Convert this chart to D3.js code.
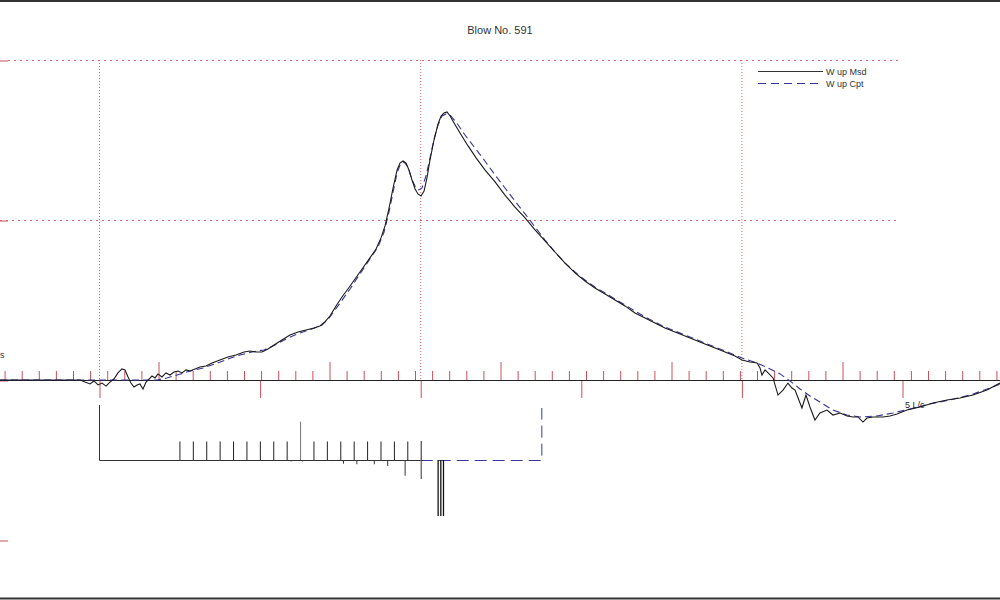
<!DOCTYPE html>
<html><head><meta charset="utf-8">
<script src="https://cdn.jsdelivr.net/npm/d3@7"></script>
<style>html,body{margin:0;padding:0;background:#fff;overflow:hidden}svg{display:block;font-family:"Liberation Sans",Arial,sans-serif}</style>
</head><body><svg id="c" width="1000" height="600"></svg>
<script>
const title = "Blow No. 591";
const legendLabels = ["W up Msd", "W up Cpt"];
const axisLabel = "5 L/c";
const sideLabel = "s";
const lcTicks = [0, 1, 2, 3, 4, 5];
const gridLc = [0, 2, 4];
const gridForce = [2000, 1000];
const forceTicks = [2000, 1000, 0, -1000];
const msMinor = d3.range(1, 60);
const msMajor = [10, 20, 30, 40, 50];

// Measured (t in L/c, force)
const msdT = [-0.616,-0.118,-0.087,-0.056,-0.031,-0.006,0.019,0.044,0.068,0.093,0.118,0.143,0.162,0.181,0.199,0.218,0.237,0.255,0.274,0.293,0.311,0.330,0.349,0.367,0.392,0.417,0.442,0.467,0.492,0.517,0.542,0.567,0.598,0.629,0.666,0.704,0.753,0.803,0.853,0.903,0.940,0.978,1.015,1.052,1.090,1.139,1.189,1.239,1.289,1.339,1.376,1.407,1.438,1.476,1.513,1.550,1.594,1.638,1.687,1.725,1.756,1.781,1.806,1.831,1.856,1.874,1.893,1.912,1.930,1.949,1.968,1.986,2.005,2.024,2.042,2.061,2.086,2.111,2.130,2.148,2.167,2.186,2.211,2.248,2.298,2.348,2.403,2.466,2.528,2.590,2.653,2.715,2.777,2.839,2.902,2.964,3.026,3.088,3.151,3.213,3.275,3.337,3.400,3.462,3.524,3.587,3.649,3.711,3.773,3.836,3.898,3.960,4.004,4.054,4.098,4.116,4.128,4.147,4.166,4.197,4.228,4.259,4.290,4.315,4.334,4.377,4.402,4.427,4.458,4.489,4.533,4.570,4.614,4.658,4.695,4.726,4.757,4.782,4.819,4.882,4.925,4.969,5.031,5.112,5.193,5.280,5.361,5.442,5.529,5.610];
const msdF = [0,0,-13,-25,-6,-31,-19,-38,-13,6,44,69,63,19,-19,-44,-31,-25,-56,-13,6,25,13,38,19,44,31,50,56,44,63,56,69,81,88,106,125,144,156,175,181,175,175,194,219,250,281,300,313,325,338,363,400,463,519,569,631,694,763,819,888,963,1075,1200,1313,1356,1369,1356,1313,1250,1194,1163,1150,1181,1263,1375,1500,1600,1650,1669,1675,1650,1606,1544,1463,1388,1313,1238,1156,1081,1013,938,869,800,731,669,619,575,538,500,463,419,388,356,325,300,275,250,225,200,175,150,125,113,106,75,31,63,44,13,-94,-63,-19,-50,-63,-175,-94,-169,-250,-206,-188,-219,-206,-225,-231,-231,-263,-238,-231,-231,-225,-213,-188,-169,-144,-125,-113,-94,-63,-19];

// Computed
const cptT = [-0.616,0.361,0.423,0.486,0.567,0.648,0.722,0.803,0.878,0.953,1.027,1.096,1.177,1.252,1.326,1.389,1.438,1.501,1.563,1.625,1.687,1.737,1.775,1.806,1.831,1.856,1.880,1.899,1.924,1.949,1.974,1.992,2.011,2.036,2.061,2.086,2.111,2.136,2.161,2.186,2.223,2.279,2.341,2.403,2.466,2.528,2.590,2.653,2.715,2.777,2.839,2.902,2.964,3.026,3.088,3.151,3.213,3.275,3.337,3.400,3.462,3.524,3.587,3.649,3.711,3.773,3.836,3.898,3.960,4.004,4.098,4.179,4.241,4.303,4.365,4.427,4.489,4.570,4.658,4.738,4.844,4.944,5.050,5.174,5.299,5.423,5.548,5.610];
const cptF = [0,0,13,31,56,75,100,131,156,175,188,219,263,294,319,344,394,481,569,663,756,831,925,1050,1175,1294,1356,1363,1331,1250,1200,1188,1200,1275,1388,1506,1594,1650,1663,1656,1613,1531,1450,1369,1281,1200,1119,1038,956,875,800,731,675,625,581,544,506,469,431,394,363,331,306,281,256,231,206,181,156,138,106,69,38,-6,-56,-100,-138,-188,-219,-231,-225,-206,-181,-150,-125,-94,-50,-25];

// Resistance profile (segment index along pile, relative value)
const frictionSeg = [6,7,8,9,10,11,12,13,14,15,16,17,18,19,20,21,22,23,24];
const frictionVal = [1,1,1,1,1,1,1,1,1,2.07,1,1,1,1,1,1,1,1,1.03];
const lowerSeg = [14.3,15.15,17.3,18.2,19.2,20.5,21.5,22.8,24];
const lowerVal = [0.08,0.08,0.06,0.2,0.23,0.23,0.32,0.85,1.03];
const toeSeg = [25.3,25.5,25.7];
const toeVal = [3.03,3.03,3.03];
const pileSegs = 24, extSegs = 33;
const pileTopVal = 2.97, extEndVal = 2.81;

const svg = d3.select("#c");
const W = 1000, H = 600;
const x = d3.scaleLinear().domain([0, 5]).range([99, 902]);
const y = d3.scaleLinear().domain([0, 2000]).range([380, 60]);
const ms = d3.scaleLinear().domain([0, 60]).range([-13, 1013]);
const seg = d3.scaleLinear().domain([0, pileSegs]).range([99, 420.7]);
const prof = d3.scaleLinear().domain([0, 1]).range([460, 441.5]);
const red = "#c8505a", grid = "#d86a6a", blue = "#35359a";

// frame
svg.append("line").attr("x1",0).attr("x2",W).attr("y1",1).attr("y2",1).attr("stroke","#333").attr("stroke-width",2);
svg.append("line").attr("x1",0).attr("x2",W).attr("y1",598.5).attr("y2",598.5).attr("stroke","#333").attr("stroke-width",2);

// title
svg.append("text").attr("x",500).attr("y",34).attr("text-anchor","middle").attr("font-size",11).attr("fill","#333").text(title);

// grid
gridForce.forEach((f,i) => svg.append("line").attr("x1", i===0 ? 8 : 0).attr("x2", 900).attr("y1", y(f)+0.5).attr("y2", y(f)+0.5)
  .attr("stroke", grid).attr("stroke-dasharray","2,4"));
gridLc.forEach(t => svg.append("line").attr("x1", x(t)+0.5).attr("x2", x(t)+0.5).attr("y1", 60).attr("y2", 380)
  .attr("stroke", grid).attr("stroke-dasharray","1,2"));

// left ticks
const la = svg.append("g").attr("transform","translate(0,0.5)").call(d3.axisRight(y).tickValues(forceTicks).tickSize(8).tickFormat(""));
la.select(".domain").remove(); la.selectAll("line").attr("stroke", red);

// ms ticks (upward)
const g1 = svg.append("g").attr("transform","translate(0.5,380)").call(d3.axisTop(ms).tickValues(msMinor.filter(v=>v%10)).tickSize(9).tickFormat(""));
g1.select(".domain").remove(); g1.selectAll("line").attr("stroke", red);
const g2 = svg.append("g").attr("transform","translate(0.5,380)").call(d3.axisTop(ms).tickValues(msMajor).tickSize(18).tickFormat(""));
g2.select(".domain").remove(); g2.selectAll("line").attr("stroke", red);
// L/c ticks (downward)
const g3 = svg.append("g").attr("transform","translate(0.5,380)").call(d3.axisBottom(x).tickValues(lcTicks).tickSize(18).tickFormat(""));
g3.select(".domain").remove(); g3.selectAll("line").attr("stroke", red);

// zero axis line
svg.append("line").attr("x1",0).attr("x2",W).attr("y1",380.5).attr("y2",380.5).attr("stroke","#222");

svg.append("text").attr("x",0).attr("y",358).attr("font-size",9).attr("fill","#333").text(sideLabel);
svg.append("text").attr("x",905).attr("y",408).attr("font-size",9).attr("fill","#222").text(axisLabel);

// curves
const line = d3.line().x(d => x(d[0])).y(d => y(d[1]));
const cpt = cptT.map((t,i) => [t, cptF[i]]);
const msd = msdT.map((t,i) => [t, msdF[i]]);
svg.append("path").attr("d", line(cpt)).attr("fill","none").attr("stroke",blue).attr("stroke-width",1.1).attr("stroke-dasharray","7,4");
svg.append("path").attr("d", line(msd)).attr("fill","none").attr("stroke","#1a1a1a").attr("stroke-width",1.1);

// legend
[0,1].forEach(i => {
  const ly = 71 + i*12;
  svg.append("line").attr("x1",758).attr("x2",823).attr("y1",ly+0.5).attr("y2",ly+0.5)
    .attr("stroke", i ? blue : "#333").attr("stroke-dasharray", i ? "8,5" : null);
  svg.append("text").attr("x",826).attr("y",ly+3.5).attr("font-size",9).attr("fill","#333").text(legendLabels[i]);
});

// profile
svg.append("path").attr("d", `M${seg(0)+0.5},${prof(pileTopVal)}V${prof(0)+0.5}H${seg(pileSegs)}`)
  .attr("fill","none").attr("stroke","#333");
svg.append("path").attr("d", `M${seg(pileSegs)},${prof(0)+0.5}H${seg(extSegs)+0.5}V${prof(extEndVal)}`)
  .attr("fill","none").attr("stroke","#3a3a9a").attr("stroke-dasharray","12,6");
svg.selectAll(".fb").data(frictionSeg).enter().append("line")
  .attr("x1", d => seg(d)+0.5).attr("x2", d => seg(d)+0.5)
  .attr("y1", prof(0)).attr("y2", (d,i) => prof(frictionVal[i]))
  .attr("stroke", (d,i) => frictionVal[i] > 1.5 ? "#777" : "#222");
svg.selectAll(".lb").data(lowerSeg).enter().append("line")
  .attr("x1", d => seg(d)+0.5).attr("x2", d => seg(d)+0.5)
  .attr("y1", prof(0)).attr("y2", (d,i) => prof(-lowerVal[i]))
  .attr("stroke", "#333");
svg.selectAll(".tb").data(toeSeg).enter().append("line")
  .attr("x1", d => seg(d)).attr("x2", d => seg(d))
  .attr("y1", prof(0)).attr("y2", (d,i) => prof(-toeVal[i]))
  .attr("stroke", "#111").attr("stroke-width",1.3);
</script></body></html>
